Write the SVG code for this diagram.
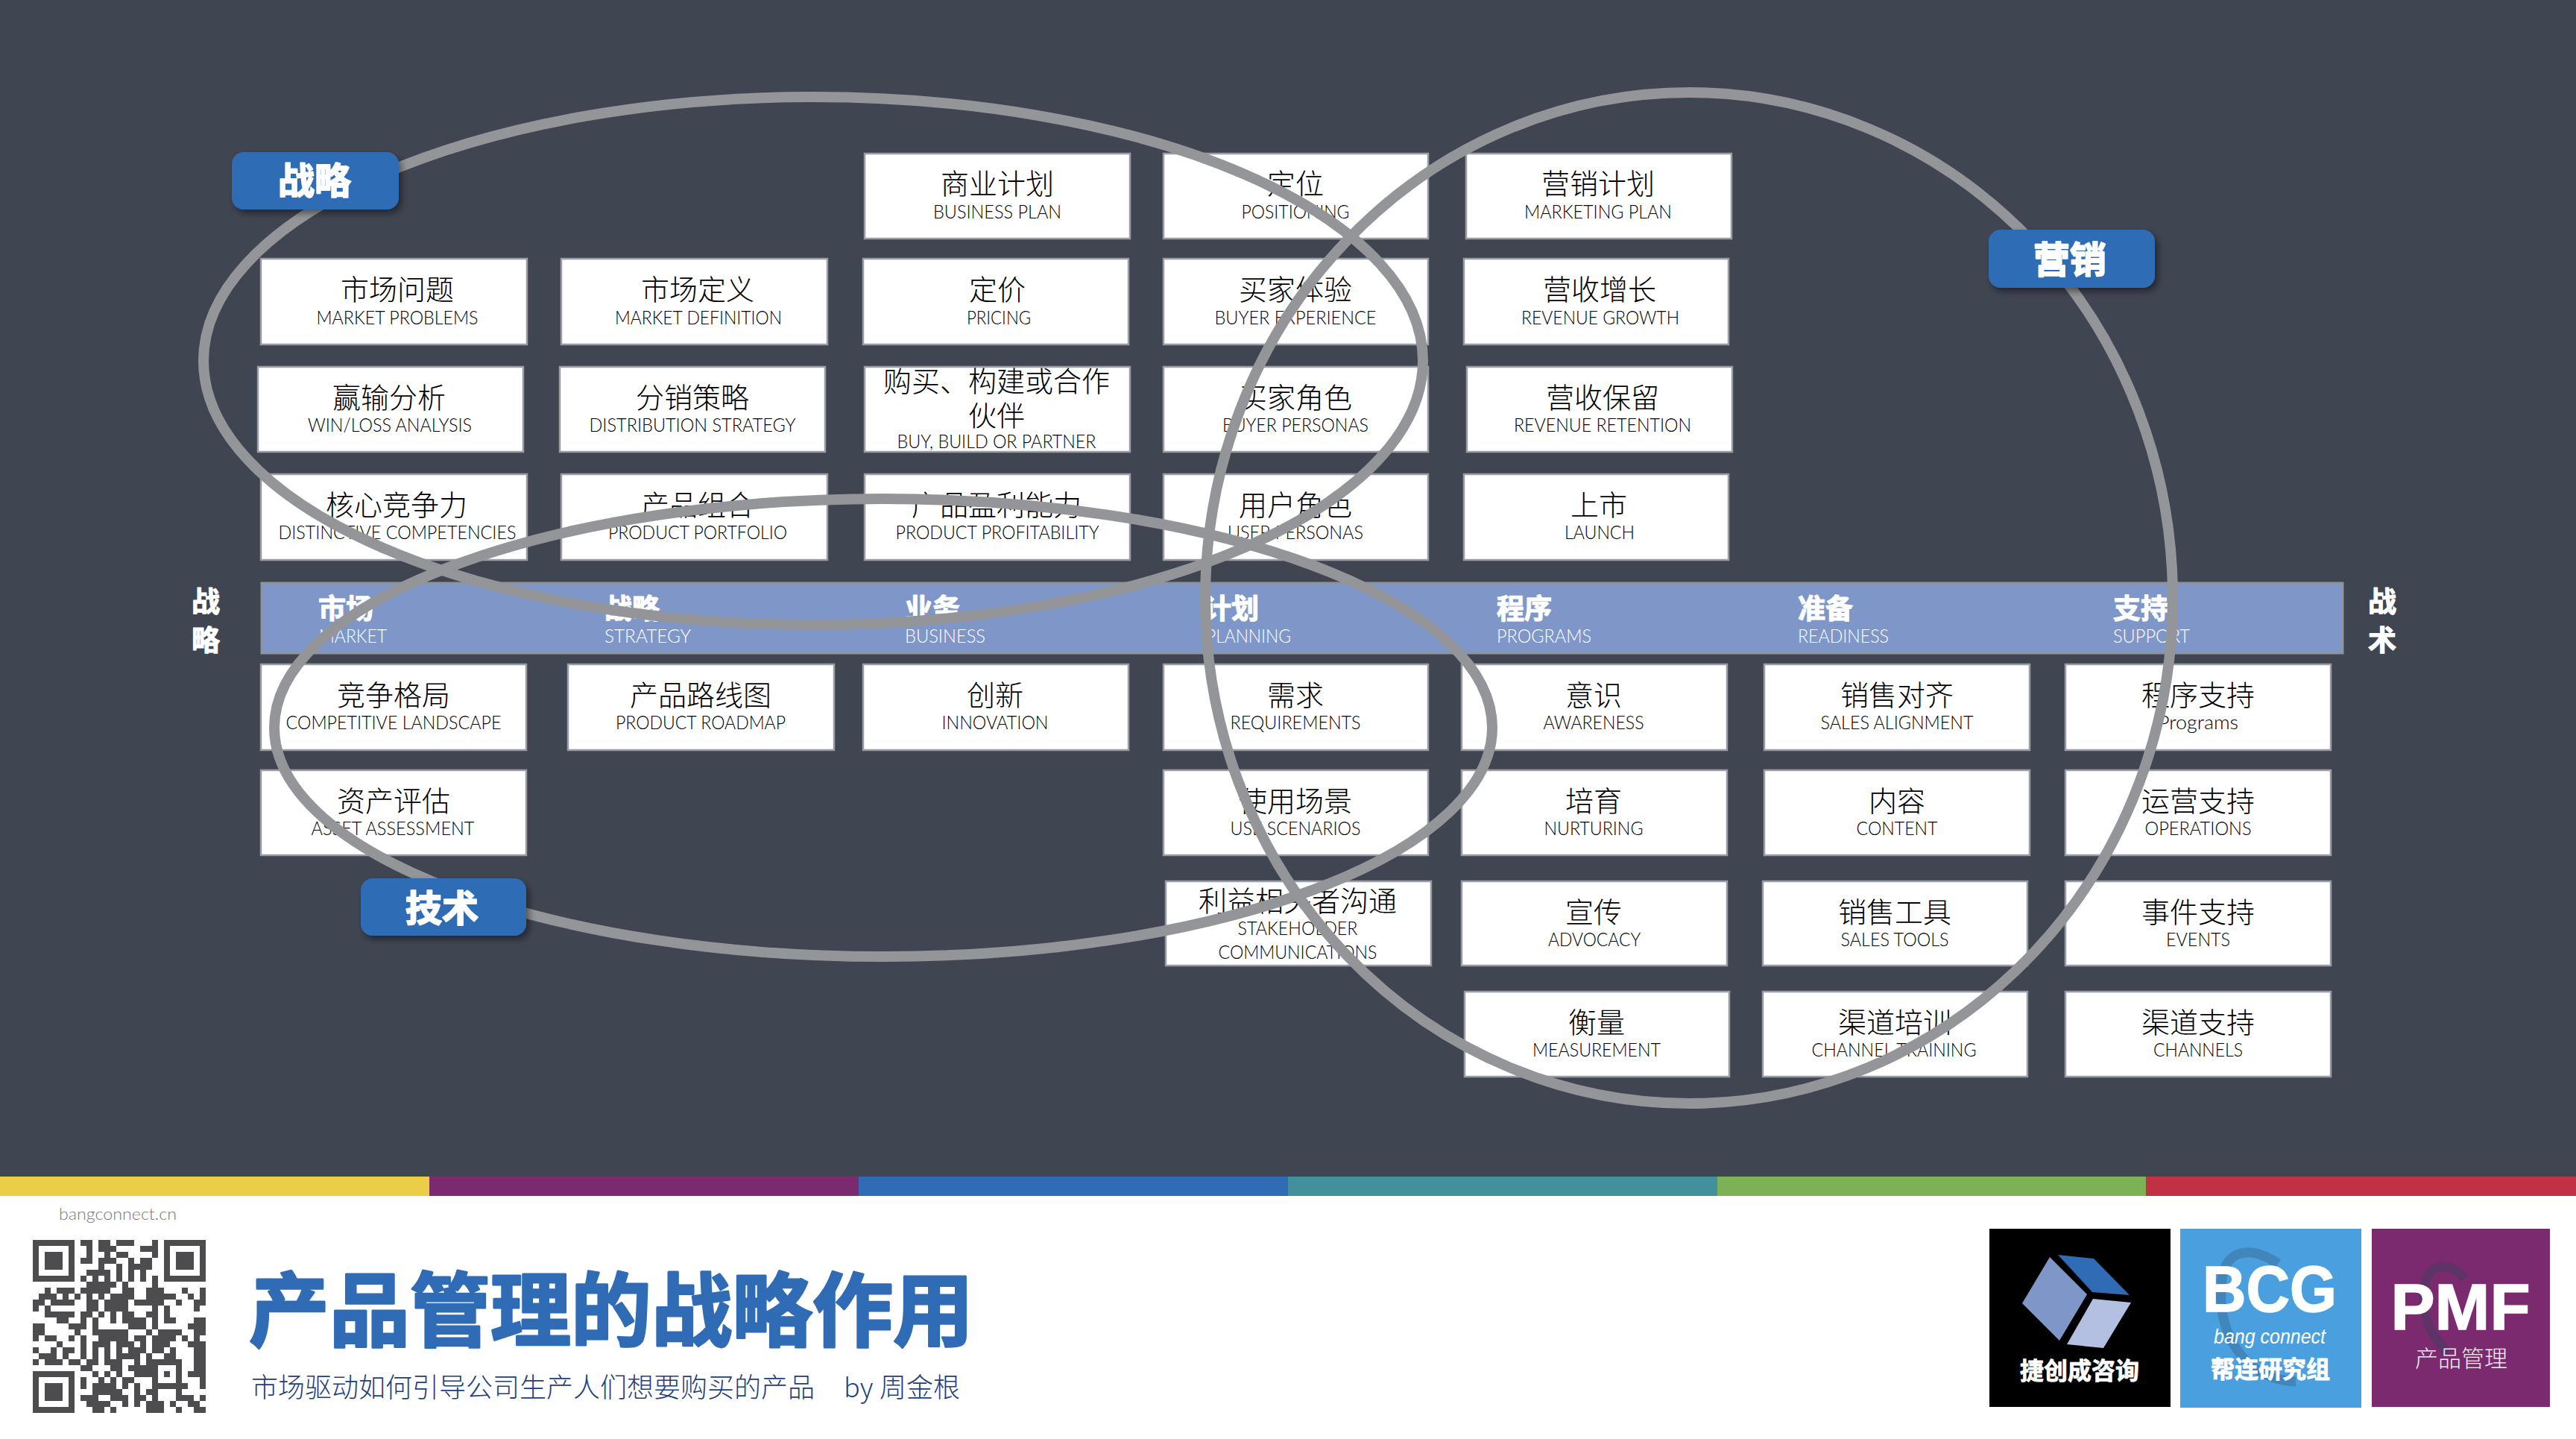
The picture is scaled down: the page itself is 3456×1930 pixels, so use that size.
<svg xmlns="http://www.w3.org/2000/svg" width="3456" height="1930" viewBox="0 0 3456 1930">
<defs>
<style>
.b{fill:#fff;stroke:#9a9da4;stroke-width:2.500}
.zh{font-family:"Noto Sans CJK SC",sans-serif;font-size:38px;font-weight:300;text-anchor:middle;fill:#000}
.en{font-family:"Lato","Noto Sans",sans-serif;font-size:26px;font-weight:300;text-anchor:middle;fill:#000}
.hz{font-family:"Noto Sans CJK SC",sans-serif;font-size:37px;font-weight:700;fill:#fff;stroke:#fff;stroke-width:1.200;stroke-linejoin:round}
.he{font-family:"Lato","Noto Sans",sans-serif;font-size:26px;font-weight:300;fill:#fff}
.side{font-family:"Noto Sans CJK SC",sans-serif;font-size:38px;font-weight:700;fill:#fff;text-anchor:middle;stroke:#fff;stroke-width:1.200;stroke-linejoin:round}
.pill{fill:#2f6cb5;filter:url(#sh)}
.pt{font-family:"Noto Sans CJK SC",sans-serif;font-size:49px;font-weight:700;fill:#fff;text-anchor:middle;stroke:#fff;stroke-width:2;stroke-linejoin:round}
.ring{fill:none;stroke:#939598;stroke-width:14}
.lg{font-family:"Noto Sans CJK SC",sans-serif;font-size:32px;font-weight:700;fill:#fff;text-anchor:middle;stroke:#fff;stroke-width:.8;stroke-linejoin:round}
.lat{font-family:"Liberation Sans",sans-serif;font-size:87px;font-weight:700;fill:#fff;text-anchor:middle;stroke:#fff;stroke-width:1.500}
</style>
<filter id="sh" x="-10%" y="-20%" width="125%" height="150%"><feDropShadow dx="4" dy="5" stdDeviation="5" flood-color="#000" flood-opacity=".45"/></filter>
</defs>
<rect width="3456" height="1930" fill="#404552"/>
<g id="band"><rect x="351" y="782" width="2792" height="94" fill="#7f97c8" stroke="#8f939b" stroke-width="3"/>
<text class="hz" x="427" y="830">市场</text><text class="he" x="428" y="862" textLength="91" lengthAdjust="spacingAndGlyphs">MARKET</text>
<text class="hz" x="811" y="830">战略</text><text class="he" x="811" y="862" textLength="116" lengthAdjust="spacingAndGlyphs">STRATEGY</text>
<text class="hz" x="1214" y="830">业务</text><text class="he" x="1214" y="862" textLength="108" lengthAdjust="spacingAndGlyphs">BUSINESS</text>
<text class="hz" x="1615" y="830">计划</text><text class="he" x="1618" y="862" textLength="114" lengthAdjust="spacingAndGlyphs">PLANNING</text>
<text class="hz" x="2008" y="830">程序</text><text class="he" x="2008" y="862" textLength="127" lengthAdjust="spacingAndGlyphs">PROGRAMS</text>
<text class="hz" x="2412" y="830">准备</text><text class="he" x="2412" y="862" textLength="122" lengthAdjust="spacingAndGlyphs">READINESS</text>
<text class="hz" x="2835" y="830">支持</text><text class="he" x="2835" y="862" textLength="103" lengthAdjust="spacingAndGlyphs">SUPPORT</text>
</g>
<g id="side-left"><text class="side" x="276" y="820">战</text><text class="side" x="276" y="872">略</text></g>
<g id="side-right"><text class="side" x="3196" y="820">战</text><text class="side" x="3196" y="872">术</text></g>

<g id="n-business-plan"><rect class="b" x="1160" y="206" width="356" height="114"/><text class="zh" x="1338" y="260">商业计划</text><text class="en" x="1338" y="293" textLength="172" lengthAdjust="spacingAndGlyphs">BUSINESS PLAN</text></g>
<g id="n-positioning"><rect class="b" x="1561" y="206" width="355" height="114"/><text class="zh" x="1738" y="260">定位</text><text class="en" x="1738" y="293" textLength="145" lengthAdjust="spacingAndGlyphs">POSITIONING</text></g>
<g id="n-marketing-plan"><rect class="b" x="1967" y="206" width="356" height="114"/><text class="zh" x="2144" y="260">营销计划</text><text class="en" x="2144" y="293" textLength="198" lengthAdjust="spacingAndGlyphs">MARKETING PLAN</text></g>

<g id="n-market-problems"><rect class="b" x="350" y="347" width="357" height="115"/><text class="zh" x="533" y="402">市场问题</text><text class="en" x="533" y="435" textLength="217" lengthAdjust="spacingAndGlyphs">MARKET PROBLEMS</text></g>
<g id="n-market-definition"><rect class="b" x="753" y="347" width="357" height="115"/><text class="zh" x="936" y="402">市场定义</text><text class="en" x="937" y="435" textLength="224" lengthAdjust="spacingAndGlyphs">MARKET DEFINITION</text></g>
<g id="n-pricing"><rect class="b" x="1158" y="347" width="356" height="115"/><text class="zh" x="1338" y="402">定价</text><text class="en" x="1340" y="435" textLength="86" lengthAdjust="spacingAndGlyphs">PRICING</text></g>
<g id="n-buyer-experience"><rect class="b" x="1561" y="347" width="355" height="115"/><text class="zh" x="1738" y="402">买家体验</text><text class="en" x="1738" y="435" textLength="217" lengthAdjust="spacingAndGlyphs">BUYER EXPERIENCE</text></g>
<g id="n-revenue-growth"><rect class="b" x="1964" y="347" width="355" height="115"/><text class="zh" x="2146" y="402">营收增长</text><text class="en" x="2147" y="435" textLength="212" lengthAdjust="spacingAndGlyphs">REVENUE GROWTH</text></g>

<g id="n-win-loss"><rect class="b" x="346" y="492" width="356" height="114"/><text class="zh" x="522" y="547">赢输分析</text><text class="en" x="523" y="579" textLength="220" lengthAdjust="spacingAndGlyphs">WIN/LOSS ANALYSIS</text></g>
<g id="n-distribution"><rect class="b" x="751" y="492" width="356" height="114"/><text class="zh" x="929" y="547">分销策略</text><text class="en" x="929" y="579" textLength="277" lengthAdjust="spacingAndGlyphs">DISTRIBUTION STRATEGY</text></g>
<g id="n-buy-build"><rect class="b" x="1160" y="492" width="356" height="114"/><text class="zh" x="1337" y="525">购买、构建或合作</text><text class="zh" x="1337" y="571">伙伴</text><text class="en" x="1337" y="601" textLength="267" lengthAdjust="spacingAndGlyphs">BUY, BUILD OR PARTNER</text></g>
<g id="n-buyer-personas"><rect class="b" x="1561" y="492" width="355" height="114"/><text class="zh" x="1738" y="547">买家角色</text><text class="en" x="1738" y="579" textLength="196" lengthAdjust="spacingAndGlyphs">BUYER PERSONAS</text></g>
<g id="n-revenue-retention"><rect class="b" x="1968" y="492" width="356" height="114"/><text class="zh" x="2150" y="547">营收保留</text><text class="en" x="2150" y="579" textLength="238" lengthAdjust="spacingAndGlyphs">REVENUE RETENTION</text></g>

<g id="n-competencies"><rect class="b" x="350" y="636" width="357" height="115"/><text class="zh" x="532" y="691">核心竞争力</text><text class="en" x="533" y="723" textLength="319" lengthAdjust="spacingAndGlyphs">DISTINCTIVE COMPETENCIES</text></g>
<g id="n-portfolio"><rect class="b" x="753" y="636" width="357" height="115"/><text class="zh" x="936" y="691">产品组合</text><text class="en" x="936" y="723" textLength="240" lengthAdjust="spacingAndGlyphs">PRODUCT PORTFOLIO</text></g>
<g id="n-profitability"><rect class="b" x="1160" y="636" width="356" height="115"/><text class="zh" x="1337" y="691">产品盈利能力</text><text class="en" x="1338" y="723" textLength="273" lengthAdjust="spacingAndGlyphs">PRODUCT PROFITABILITY</text></g>
<g id="n-user-personas"><rect class="b" x="1561" y="636" width="355" height="115"/><text class="zh" x="1738" y="691">用户角色</text><text class="en" x="1738" y="723" textLength="182" lengthAdjust="spacingAndGlyphs">USER PERSONAS</text></g>
<g id="n-launch"><rect class="b" x="1964" y="636" width="355" height="115"/><text class="zh" x="2145" y="691">上市</text><text class="en" x="2146" y="723" textLength="94" lengthAdjust="spacingAndGlyphs">LAUNCH</text></g>

<g id="n-competitive"><rect class="b" x="350" y="891" width="356" height="115"/><text class="zh" x="528" y="946">竞争格局</text><text class="en" x="528" y="978" textLength="289" lengthAdjust="spacingAndGlyphs">COMPETITIVE LANDSCAPE</text></g>
<g id="n-roadmap"><rect class="b" x="762" y="891" width="357" height="115"/><text class="zh" x="940" y="946">产品路线图</text><text class="en" x="940" y="978" textLength="228" lengthAdjust="spacingAndGlyphs">PRODUCT ROADMAP</text></g>
<g id="n-innovation"><rect class="b" x="1158" y="891" width="356" height="115"/><text class="zh" x="1335" y="946">创新</text><text class="en" x="1335" y="978" textLength="143" lengthAdjust="spacingAndGlyphs">INNOVATION</text></g>
<g id="n-requirements"><rect class="b" x="1561" y="891" width="355" height="115"/><text class="zh" x="1738" y="946">需求</text><text class="en" x="1738" y="978" textLength="175" lengthAdjust="spacingAndGlyphs">REQUIREMENTS</text></g>
<g id="n-awareness"><rect class="b" x="1961" y="891" width="356" height="115"/><text class="zh" x="2138" y="946">意识</text><text class="en" x="2138" y="978" textLength="135" lengthAdjust="spacingAndGlyphs">AWARENESS</text></g>
<g id="n-sales-alignment"><rect class="b" x="2367" y="891" width="356" height="115"/><text class="zh" x="2545" y="946">销售对齐</text><text class="en" x="2545" y="978" textLength="205" lengthAdjust="spacingAndGlyphs">SALES ALIGNMENT</text></g>
<g id="n-programs"><rect class="b" x="2771" y="891" width="356" height="115"/><text class="zh" x="2949" y="946">程序支持</text><text class="en" x="2949" y="978" textLength="108" lengthAdjust="spacingAndGlyphs">Programs</text></g>

<g id="n-asset"><rect class="b" x="350" y="1033" width="356" height="114"/><text class="zh" x="528" y="1088">资产评估</text><text class="en" x="527" y="1120" textLength="219" lengthAdjust="spacingAndGlyphs">ASSET ASSESSMENT</text></g>
<g id="n-use-scenarios"><rect class="b" x="1561" y="1033" width="355" height="114"/><text class="zh" x="1738" y="1088">使用场景</text><text class="en" x="1738" y="1120" textLength="175" lengthAdjust="spacingAndGlyphs">USE SCENARIOS</text></g>
<g id="n-nurturing"><rect class="b" x="1961" y="1033" width="356" height="114"/><text class="zh" x="2138" y="1088">培育</text><text class="en" x="2138" y="1120" textLength="133" lengthAdjust="spacingAndGlyphs">NURTURING</text></g>
<g id="n-content"><rect class="b" x="2367" y="1033" width="356" height="114"/><text class="zh" x="2545" y="1088">内容</text><text class="en" x="2545" y="1120" textLength="109" lengthAdjust="spacingAndGlyphs">CONTENT</text></g>
<g id="n-operations"><rect class="b" x="2771" y="1033" width="356" height="114"/><text class="zh" x="2949" y="1088">运营支持</text><text class="en" x="2949" y="1120" textLength="143" lengthAdjust="spacingAndGlyphs">OPERATIONS</text></g>

<g id="n-stakeholder"><rect class="b" x="1564" y="1182" width="356" height="113"/><text class="zh" x="1741" y="1222">利益相关者沟通</text><text class="en" x="1741" y="1254" textLength="161" lengthAdjust="spacingAndGlyphs">STAKEHOLDER</text><text class="en" x="1741" y="1286" textLength="213" lengthAdjust="spacingAndGlyphs">COMMUNICATIONS</text></g>
<g id="n-advocacy"><rect class="b" x="1961" y="1182" width="356" height="113"/><text class="zh" x="2138" y="1237">宣传</text><text class="en" x="2139" y="1269" textLength="124" lengthAdjust="spacingAndGlyphs">ADVOCACY</text></g>
<g id="n-sales-tools"><rect class="b" x="2365" y="1182" width="355" height="113"/><text class="zh" x="2542" y="1237">销售工具</text><text class="en" x="2542" y="1269" textLength="145" lengthAdjust="spacingAndGlyphs">SALES TOOLS</text></g>
<g id="n-events"><rect class="b" x="2771" y="1182" width="356" height="113"/><text class="zh" x="2949" y="1237">事件支持</text><text class="en" x="2949" y="1269" textLength="86" lengthAdjust="spacingAndGlyphs">EVENTS</text></g>

<g id="n-measurement"><rect class="b" x="1965" y="1330" width="355" height="114"/><text class="zh" x="2142" y="1385">衡量</text><text class="en" x="2142" y="1417" textLength="172" lengthAdjust="spacingAndGlyphs">MEASUREMENT</text></g>
<g id="n-channel-training"><rect class="b" x="2365" y="1330" width="355" height="114"/><text class="zh" x="2542" y="1385">渠道培训</text><text class="en" x="2541" y="1417" textLength="221" lengthAdjust="spacingAndGlyphs">CHANNEL TRAINING</text></g>
<g id="n-channels"><rect class="b" x="2771" y="1330" width="356" height="114"/><text class="zh" x="2949" y="1385">渠道支持</text><text class="en" x="2949" y="1417" textLength="120" lengthAdjust="spacingAndGlyphs">CHANNELS</text></g>

<g id="connectors">
<ellipse class="ring" cx="1091" cy="484" rx="818" ry="354"/>
<ellipse class="ring" cx="1185" cy="976" rx="817" ry="307"/>
<ellipse class="ring" cx="2266" cy="802" rx="649" ry="678"/>
</g>

<g id="l-strategy"><rect class="pill" x="311" y="204" width="224" height="77" rx="16"/><text class="pt" x="422" y="260">战略</text></g>
<g id="l-marketing"><rect class="pill" x="2668" y="308" width="223" height="78" rx="16"/><text class="pt" x="2777" y="366">营销</text></g>
<g id="l-technology"><rect class="pill" x="484" y="1178" width="222" height="77" rx="16"/><text class="pt" x="593" y="1236">技术</text></g>

<g id="footer">
<rect y="1604" width="3456" height="326" fill="#fff"/>
<rect x="0" y="1578" width="576" height="26" fill="#eccd47"/>
<rect x="576" y="1578" width="576" height="26" fill="#7c2a70"/>
<rect x="1152" y="1578" width="576" height="26" fill="#2f6cb5"/>
<rect x="1728" y="1578" width="576" height="26" fill="#43909d"/>
<rect x="2304" y="1578" width="575" height="26" fill="#7cb155"/>
<rect x="2879" y="1578" width="577" height="26" fill="#c13045"/>
<text x="79" y="1636" font-family="Lato,sans-serif" font-size="22" font-weight="300" fill="#777" textLength="158" lengthAdjust="spacingAndGlyphs">bangconnect.cn</text>
<g id="qr" transform="translate(44 1663) scale(8)" fill="none" stroke="#4d4d4f" shape-rendering="crispEdges">
<path stroke-width="1" d="M.5 .5h6v6h-6zM22.500 .5h6v6h-6zM.5 22.500h6v6h-6z"/>
<path stroke-width="3" d="M2 3.500h3M24 3.500h3M2 25.500h3"/>
<path stroke-width="1" d="M8 .5h2M11 .5h2M14 .5h3M20 .5h1M9 1.500h1M11 1.500h3M18 1.500h3M9 2.500h1M12 2.500h1M14 2.500h2M20 2.500h1M8 3.500h2M11 3.500h3M16 3.500h1M18 3.500h2M11 4.500h1M14 4.500h1M16 4.500h4M9 5.500h4M14 5.500h1M16 5.500h1M18 5.500h1M8 6.500h1M10 6.500h1M12 6.500h1M14 6.500h1M16 6.500h1M18 6.500h1M20 6.500h1M9 7.500h5M15 7.500h1M20 7.500h1M2 8.500h1M4 8.500h3M8 8.500h5M15 8.500h2M19 8.500h3M25 8.500h1M28 8.500h1M1 9.500h3M5 9.500h1M7 9.500h1M9 9.500h1M11 9.500h1M13 9.500h4M19 9.500h5M26 9.500h1M28 9.500h1M0 10.500h2M3 10.500h3M6 10.500h1M9 10.500h2M12 10.500h4M17 10.500h5M24 10.500h1M27 10.500h2M0 11.500h1M2 11.500h1M9 11.500h2M12 11.500h4M20 11.500h1M22 11.500h1M27 11.500h1M2 12.500h4M6 12.500h1M8 12.500h2M11 12.500h1M13 12.500h1M15 12.500h2M19 12.500h2M22 12.500h1M4 13.500h2M8 13.500h1M10 13.500h1M13 13.500h1M15 13.500h4M20 13.500h1M22 13.500h2M27 13.500h2M0 14.500h2M6 14.500h3M10 14.500h1M16 14.500h3M20 14.500h1M26 14.500h3M0 15.500h2M7 15.500h1M10 15.500h5M15 15.500h1M19 15.500h1M21 15.500h4M27 15.500h2M0 16.500h1M2 16.500h2M6 16.500h1M8 16.500h1M11 16.500h5M17 16.500h2M20 16.500h4M25 16.500h1M27 16.500h1M4 17.500h1M8 17.500h1M10 17.500h3M14 17.500h3M18 17.500h1M20 17.500h3M26 17.500h3M0 18.500h1M3 18.500h1M5 18.500h2M8 18.500h1M10 18.500h1M12 18.500h1M14 18.500h1M16 18.500h3M20 18.500h2M23 18.500h1M27 18.500h2M1 19.500h3M5 19.500h1M8 19.500h1M10 19.500h1M12 19.500h1M14 19.500h4M19 19.500h1M22 19.500h2M27 19.500h2M0 20.500h1M2 20.500h3M6 20.500h2M9 20.500h2M12 20.500h3M17 20.500h1M19 20.500h6M27 20.500h2M8 21.500h2M13 21.500h2M16 21.500h5M24 21.500h1M27 21.500h2M10 22.500h1M12 22.500h1M14 22.500h1M17 22.500h4M22 22.500h1M24 22.500h1M26 22.500h3M8 23.500h1M11 23.500h1M13 23.500h1M15 23.500h2M20 23.500h1M24 23.500h1M28 23.500h1M8 24.500h1M10 24.500h4M15 24.500h1M17 24.500h1M20 24.500h6M28 24.500h1M10 25.500h5M17 25.500h1M19 25.500h2M24 25.500h1M8 26.500h3M13 26.500h3M17 26.500h2M20 26.500h1M24 26.500h3M28 26.500h1M9 27.500h4M15 27.500h1M17 27.500h1M19 27.500h3M23 27.500h1M26 27.500h2M10 28.500h2M13 28.500h1M19 28.500h3M24 28.500h1M27 28.500h2"/>
</g>
<text x="334" y="1797" font-family="Noto Sans CJK SC,sans-serif" font-size="108" font-weight="700" fill="#2f6cb5" stroke="#2f6cb5" stroke-width="3" stroke-linejoin="round">产品管理的战略作用</text>
<text x="337" y="1874" font-family="Noto Sans CJK SC,sans-serif" font-size="36" font-weight="300" fill="#1f3f7c">市场驱动如何引导公司生产人们想要购买的产品</text>
<text x="1132" y="1874" font-family="Noto Sans CJK SC,sans-serif" font-size="36" font-weight="300" fill="#1f3f7c">by</text>
<text x="1180" y="1874" font-family="Noto Sans CJK SC,sans-serif" font-size="36" font-weight="300" fill="#1f3f7c">周金根</text>
</g>

<g id="logo-jiechuang">
<rect x="2669" y="1648" width="243" height="239" fill="#000"/>
<polygon points="2750,1686 2800,1736 2763,1798 2713,1748" fill="#7f97c8"/>
<polygon points="2761,1683 2809,1688 2857,1737 2807,1733" fill="#2f6cb5"/>
<polygon points="2808,1742 2859,1747 2822,1808 2773,1803" fill="#b4c0e2"/>
<text class="lg" x="2790" y="1850">捷创成咨询</text>
</g>
<g id="logo-bcg">
<rect x="2925" y="1648" width="243" height="240" fill="#4a9fdf"/>
<path d="M3056 1695C3030 1675 2990 1670 2982 1710C2970 1770 3000 1850 3080 1853" fill="none" stroke="#4086bb" stroke-width="13"/>
<text class="lat" x="3045" y="1759" textLength="180" lengthAdjust="spacingAndGlyphs">BCG</text>
<text x="3045" y="1802" font-family="Liberation Sans,sans-serif" font-size="27" font-style="italic" fill="#fff" text-anchor="middle" textLength="150" lengthAdjust="spacingAndGlyphs">bang connect</text>
<text class="lg" x="3046" y="1848">帮连研究组</text>
</g>
<g id="logo-pmf">
<rect x="3182" y="1648" width="239" height="239" fill="#7c2a70"/>
<path d="M3307 1715C3290 1695 3262 1690 3254 1720C3245 1760 3260 1790 3285 1815" fill="none" stroke="#5e3466" stroke-width="13"/>
<text class="lat" x="3301" y="1783" textLength="187" lengthAdjust="spacingAndGlyphs">PMF</text>
<text x="3302" y="1833" font-family="Noto Sans CJK SC,sans-serif" font-size="31" font-weight="300" fill="#eee" text-anchor="middle">产品管理</text>
</g>
</svg>
